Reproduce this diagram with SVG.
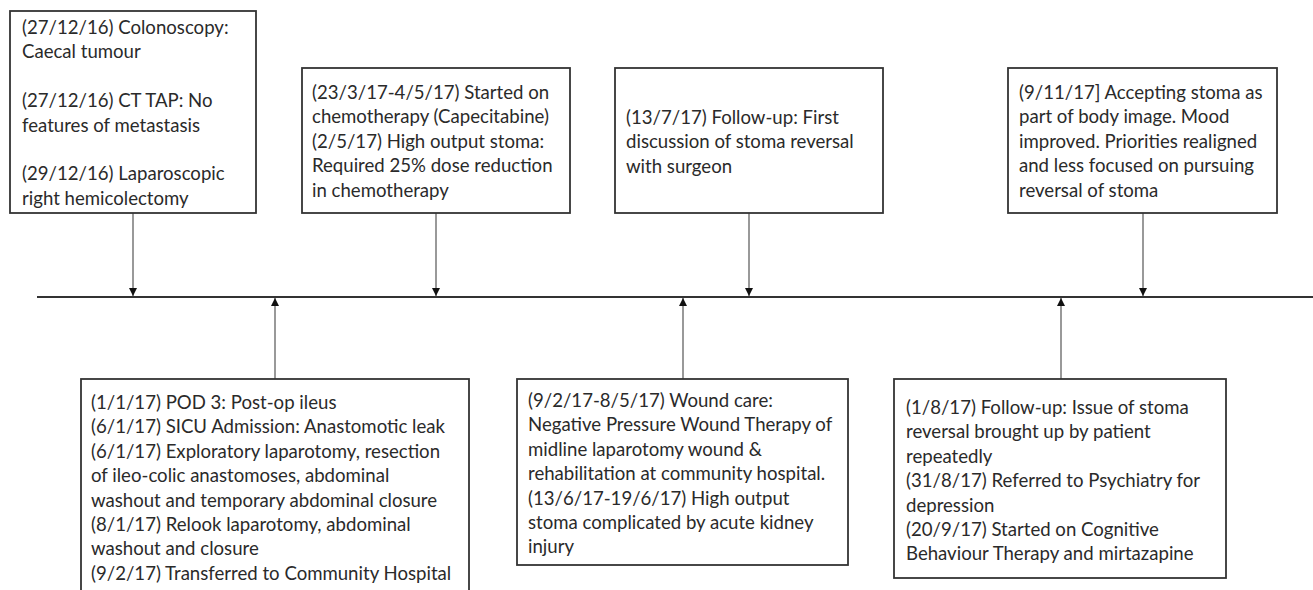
<svg xmlns="http://www.w3.org/2000/svg" width="1313" height="590" viewBox="0 0 1313 590">
<defs>
<style>
.box{fill:#fff;stroke:#333;stroke-width:1.8}
.t{font-family:Lato,"Open Sans","Liberation Sans",sans-serif;font-size:18.6px;fill:#2a2a2a}
.c{stroke:#555;stroke-width:1.2;fill:none}
.tl{stroke:#333;stroke-width:2}
</style>
<marker id="ah" markerUnits="userSpaceOnUse" markerWidth="8" markerHeight="8" viewBox="0 0 8 8" refX="8" refY="4" orient="auto">
<path d="M0,0 L8,4 L0,8 Z" fill="#111"/>
</marker>
</defs>
<rect width="1313" height="590" fill="#fff"/>
<g id="connectors">
<line class="tl" x1="37" y1="297" x2="1313" y2="297"/>
<line class="c" x1="133" y1="213" x2="133" y2="296" marker-end="url(#ah)"/>
<line class="c" x1="436" y1="213" x2="436" y2="296" marker-end="url(#ah)"/>
<line class="c" x1="749" y1="213" x2="749" y2="296" marker-end="url(#ah)"/>
<line class="c" x1="1143" y1="213" x2="1143" y2="296" marker-end="url(#ah)"/>
<line class="c" x1="275" y1="379" x2="275" y2="298" marker-end="url(#ah)"/>
<line class="c" x1="683" y1="379" x2="683" y2="298" marker-end="url(#ah)"/>
<line class="c" x1="1061" y1="379" x2="1061" y2="298" marker-end="url(#ah)"/>
</g>
<g id="n1">
<rect class="box" x="10" y="11" width="246" height="202"/>
<text class="t"><tspan x="22" y="34">(27/12/16) Colonoscopy:</tspan><tspan x="22" y="58.4">Caecal tumour</tspan><tspan x="22" y="107.2">(27/12/16) CT TAP: No</tspan><tspan x="22" y="131.6">features of metastasis</tspan><tspan x="22" y="180.4">(29/12/16) Laparoscopic</tspan><tspan x="22" y="204.8">right hemicolectomy</tspan></text>
</g>
<g id="n2">
<rect class="box" x="302" y="68" width="268" height="145"/>
<text class="t"><tspan x="312" y="99">(23/3/17-4/5/17) Started on</tspan><tspan x="312" y="123.4">chemotherapy (Capecitabine)</tspan><tspan x="312" y="147.8">(2/5/17) High output stoma:</tspan><tspan x="312" y="172.2">Required 25% dose reduction</tspan><tspan x="312" y="196.6">in chemotherapy</tspan></text>
</g>
<g id="n3">
<rect class="box" x="615" y="68" width="268" height="145"/>
<text class="t"><tspan x="626" y="124">(13/7/17) Follow-up: First</tspan><tspan x="626" y="148.4">discussion of stoma reversal</tspan><tspan x="626" y="172.8">with surgeon</tspan></text>
</g>
<g id="n4">
<rect class="box" x="1008" y="68" width="269" height="145"/>
<text class="t"><tspan x="1019" y="99">(9/11/17] Accepting stoma as</tspan><tspan x="1019" y="123.4">part of body image. Mood</tspan><tspan x="1019" y="147.8">improved. Priorities realigned</tspan><tspan x="1019" y="172.2">and less focused on pursuing</tspan><tspan x="1019" y="196.6">reversal of stoma</tspan></text>
</g>
<g id="n5">
<rect class="box" x="81" y="379" width="388" height="230"/>
<text class="t"><tspan x="91" y="409">(1/1/17) POD 3: Post-op ileus</tspan><tspan x="91" y="433.4">(6/1/17) SICU Admission: Anastomotic leak</tspan><tspan x="91" y="457.8">(6/1/17) Exploratory laparotomy, resection</tspan><tspan x="91" y="482.2">of ileo-colic anastomoses, abdominal</tspan><tspan x="91" y="506.6">washout and temporary abdominal closure</tspan><tspan x="91" y="531">(8/1/17) Relook laparotomy, abdominal</tspan><tspan x="91" y="555.4">washout and closure</tspan><tspan x="91" y="579.8">(9/2/17) Transferred to Community Hospital</tspan></text>
</g>
<g id="n6">
<rect class="box" x="517" y="379" width="331" height="186"/>
<text class="t"><tspan x="528" y="407">(9/2/17-8/5/17) Wound care:</tspan><tspan x="528" y="431.4">Negative Pressure Wound Therapy of</tspan><tspan x="528" y="455.8">midline laparotomy wound &amp;</tspan><tspan x="528" y="480.2">rehabilitation at community hospital.</tspan><tspan x="528" y="504.6">(13/6/17-19/6/17) High output</tspan><tspan x="528" y="529">stoma complicated by acute kidney</tspan><tspan x="528" y="553.4">injury</tspan></text>
</g>
<g id="n7">
<rect class="box" x="894" y="379" width="332" height="199"/>
<text class="t"><tspan x="906" y="414">(1/8/17) Follow-up: Issue of stoma</tspan><tspan x="906" y="438.4">reversal brought up by patient</tspan><tspan x="906" y="462.8">repeatedly</tspan><tspan x="906" y="487.2">(31/8/17) Referred to Psychiatry for</tspan><tspan x="906" y="511.6">depression</tspan><tspan x="906" y="536">(20/9/17) Started on Cognitive</tspan><tspan x="906" y="560.4">Behaviour Therapy and mirtazapine</tspan></text>
</g>
</svg>
